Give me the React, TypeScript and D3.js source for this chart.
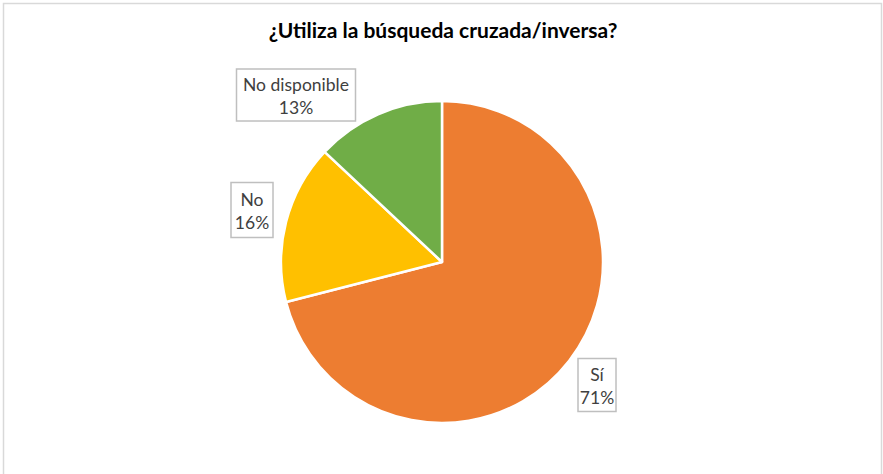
import { useEffect, useRef } from 'react';
import * as d3 from 'd3';

const categories = ['Sí', 'No', 'No disponible'];
const values = [71, 16, 13];
const colors = ['#ED7D31', '#FFC000', '#70AD47'];
const labelText = ['71%', '16%', '13%'];

// label box placement (box centers), following the original layout
const labelBoxes = [
  { cx: 597, cy: 385, w: 38, h: 53 },
  { cx: 252, cy: 210, w: 42, h: 55 },
  { cx: 296, cy: 95, w: 119, h: 52 },
];

export default function App() {
  const ref = useRef<SVGSVGElement>(null);

  useEffect(() => {
    if (!ref.current) return;
    const svg = d3.select(ref.current);
    svg.selectAll('*').remove();

    const width = 883;
    const height = 474;
    const cx = 442;
    const cy = 262;
    const radius = 161;
    const font = 'Lato, "Open Sans", sans-serif';

    svg.append('rect')
      .attr('x', 0).attr('y', 0)
      .attr('width', width).attr('height', height)
      .attr('fill', '#fff');

    // chart frame
    svg.append('rect')
      .attr('x', 3.5).attr('y', 3.5)
      .attr('width', 878).attr('height', 490)
      .attr('fill', 'none')
      .attr('stroke', '#d9d9d9')
      .attr('stroke-width', 1.5);

    svg.append('text')
      .attr('x', 443)
      .attr('y', 38)
      .attr('text-anchor', 'middle')
      .attr('font-family', font)
      .attr('font-weight', 'bold')
      .attr('font-size', 21)
      .attr('fill', '#000')
      .text('¿Utiliza la búsqueda cruzada/inversa?');

    const pie = d3.pie<number>().sort(null).value(d => d);
    const arcs = pie(values);
    const arc = d3.arc<d3.PieArcDatum<number>>().innerRadius(0).outerRadius(radius);

    const g = svg.append('g').attr('transform', `translate(${cx},${cy})`);
    g.selectAll('path')
      .data(arcs)
      .join('path')
      .attr('d', arc)
      .attr('fill', (_, i) => colors[i])
      .attr('stroke', '#fff')
      .attr('stroke-width', 2.5)
      .attr('stroke-linejoin', 'round');

    // labels
    labelBoxes.forEach((b, i) => {
      const lg = svg.append('g');
      lg.append('rect')
        .attr('x', b.cx - b.w / 2)
        .attr('y', b.cy - b.h / 2)
        .attr('width', b.w)
        .attr('height', b.h)
        .attr('fill', '#fff')
        .attr('stroke', '#bfbfbf')
        .attr('stroke-width', 1.5);
      lg.append('text')
        .attr('x', b.cx)
        .attr('y', b.cy - 4)
        .attr('text-anchor', 'middle')
        .attr('font-family', font)
        .attr('font-size', 17.5)
        .attr('fill', '#404040')
        .text(categories[i]);
      lg.append('text')
        .attr('x', b.cx)
        .attr('y', b.cy + 19)
        .attr('text-anchor', 'middle')
        .attr('font-family', font)
        .attr('font-size', 17.5)
        .attr('fill', '#404040')
        .text(labelText[i]);
    });
  }, []);

  return (
    <svg
      ref={ref}
      width={883}
      height={474}
      style={{ position: 'absolute', left: 0, top: 0, display: 'block' }}
    />
  );
}
